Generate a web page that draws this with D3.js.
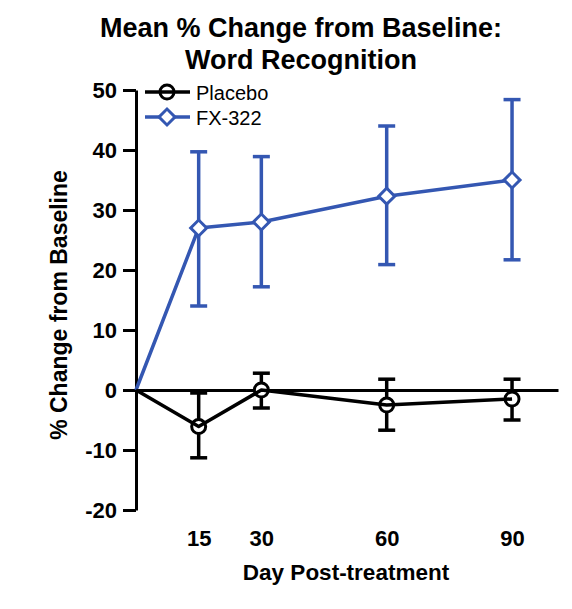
<!DOCTYPE html>
<html>
<head>
<meta charset="utf-8">
<script src="https://cdn.jsdelivr.net/npm/d3@7"></script>
<style>
  body { margin: 0; background: #fff; }
  text { font-family: "Liberation Sans", Arial, sans-serif; }
</style>
</head>
<body>
<div id="chart"></div>
<script>
// data
var days = [0, 15, 30, 60, 90];
var placeboMean = [0, -6.1, 0, -2.5, -1.5];
var placeboHi   = [null, -0.5, 2.8, 1.8, 1.8];
var placeboLo   = [null, -11.3, -3.0, -6.7, -5.0];
var fxMean = [0, 27.0, 28.0, 32.3, 35.0];
var fxHi   = [null, 39.7, 38.9, 44.0, 48.4];
var fxLo   = [null, 14.0, 17.2, 20.9, 21.7];
var yTicks = [-20, -10, 0, 10, 20, 30, 40, 50];
var xTicks = [15, 30, 60, 90];

var blue = "#3457b2";
var width = 572, height = 609;

var svg = d3.select("#chart").append("svg")
    .attr("width", width)
    .attr("height", height);

// set the ranges
var x = d3.scaleLinear().domain([0, 101]).range([136, 558]);
var y = d3.scaleLinear().domain([-20, 50]).range([510, 90]);

// title
svg.append("text")
    .attr("x", 301).attr("y", 37)
    .attr("text-anchor", "middle")
    .style("font-size", "27px").style("font-weight", "bold")
    .text("Mean % Change from Baseline:");
svg.append("text")
    .attr("x", 301).attr("y", 69)
    .attr("text-anchor", "middle")
    .style("font-size", "27px").style("font-weight", "bold")
    .text("Word Recognition");

// y axis
var yAxis = svg.append("g")
    .attr("transform", "translate(" + x(0) + ",0)")
    .call(d3.axisLeft(y).tickValues(yTicks).tickSize(13).tickSizeOuter(0).tickPadding(6)
      .tickFormat(function(d) { return String(d); }));
yAxis.select(".domain").attr("stroke-width", 3);
yAxis.selectAll(".tick line").attr("stroke-width", 3);
yAxis.selectAll("text")
    .attr("fill", "#000")
    .style("font-size", "22px").style("font-weight", "bold")
    .style("font-family", "'Liberation Sans', Arial, sans-serif");

// zero line
var zeroAxis = svg.append("g")
    .attr("transform", "translate(0," + y(0) + ")")
    .call(d3.axisBottom(x).tickValues([]).tickSizeOuter(0));
zeroAxis.select(".domain").attr("stroke-width", 3);

// x tick labels (no tick marks)
var xAxis = svg.append("g")
    .attr("transform", "translate(0," + y(-20) + ")")
    .call(d3.axisBottom(x).tickValues(xTicks).tickSize(0).tickPadding(20));
xAxis.select(".domain").remove();
xAxis.selectAll("text")
    .attr("fill", "#000")
    .style("font-size", "22px").style("font-weight", "bold")
    .style("font-family", "'Liberation Sans', Arial, sans-serif");

// axis titles
svg.append("text")
    .attr("x", 346).attr("y", 580)
    .attr("text-anchor", "middle")
    .style("font-size", "22.5px").style("font-weight", "bold")
    .text("Day Post-treatment");
svg.append("text")
    .attr("transform", "translate(67,305) rotate(-90)")
    .attr("text-anchor", "middle")
    .style("font-size", "23px").style("font-weight", "bold")
    .text("% Change from Baseline");

function rows(mean, hi, lo) {
  return days.map(function(d, i) { return {day: d, mean: mean[i], hi: hi[i], lo: lo[i]}; });
}
var placebo = rows(placeboMean, placeboHi, placeboLo);
var fx = rows(fxMean, fxHi, fxLo);

var line = d3.line()
    .x(function(d) { return x(d.day); })
    .y(function(d) { return y(d.mean); });

function errorBars(data, color) {
  var g = svg.append("g").attr("stroke", color).attr("stroke-width", 3.5).attr("fill", "none");
  var pts = data.filter(function(d) { return d.hi !== null; });
  g.selectAll(".v").data(pts).enter().append("line")
      .attr("x1", function(d) { return x(d.day); }).attr("x2", function(d) { return x(d.day); })
      .attr("y1", function(d) { return y(d.hi); }).attr("y2", function(d) { return y(d.lo); });
  ["hi", "lo"].forEach(function(k) {
    g.selectAll(".c" + k).data(pts).enter().append("line")
        .attr("x1", function(d) { return x(d.day) - 8.5; }).attr("x2", function(d) { return x(d.day) + 8.5; })
        .attr("y1", function(d) { return y(d[k]); }).attr("y2", function(d) { return y(d[k]); });
  });
}

var diamond = d3.symbol().type(d3.symbolSquare).size(128);

// FX-322
errorBars(fx, blue);
svg.append("path").datum(fx)
    .attr("d", line).attr("fill", "none")
    .attr("stroke", blue).attr("stroke-width", 3.5).attr("stroke-linejoin", "round");
svg.selectAll(".fxpt").data(fx.slice(1)).enter().append("path")
    .attr("d", diamond)
    .attr("transform", function(d) { return "translate(" + x(d.day) + "," + y(d.mean) + ") rotate(45)"; })
    .attr("fill", "#fff").attr("stroke", blue).attr("stroke-width", 3);

// Placebo
errorBars(placebo, "#000");
svg.selectAll(".plpt").data(placebo.slice(1)).enter().append("circle")
    .attr("cx", function(d) { return x(d.day); })
    .attr("cy", function(d) { return y(d.mean); })
    .attr("r", 7)
    .attr("fill", "#fff").attr("stroke", "#000").attr("stroke-width", 3);
svg.append("path").datum(placebo)
    .attr("d", line).attr("fill", "none")
    .attr("stroke", "#000").attr("stroke-width", 3.5).attr("stroke-linejoin", "round");

// legend
var legend = [
  {name: "Placebo", color: "#000", y: 92, shape: "circle"},
  {name: "FX-322", color: blue, y: 117, shape: "diamond"}
];
legend.forEach(function(l) {
  var g = svg.append("g");
  if (l.shape === "circle") {
    g.append("circle").attr("cx", 167).attr("cy", l.y).attr("r", 7)
        .attr("fill", "#fff").attr("stroke", l.color).attr("stroke-width", 3);
    g.append("line").attr("x1", 145).attr("x2", 190).attr("y1", l.y).attr("y2", l.y)
        .attr("stroke", l.color).attr("stroke-width", 3.5);
  } else {
    g.append("line").attr("x1", 145).attr("x2", 190).attr("y1", l.y).attr("y2", l.y)
        .attr("stroke", l.color).attr("stroke-width", 3.5);
    g.append("path").attr("d", diamond)
        .attr("transform", "translate(167," + l.y + ") rotate(45)")
        .attr("fill", "#fff").attr("stroke", l.color).attr("stroke-width", 3);
  }
  g.append("text").attr("x", 196).attr("y", l.y + 8)
      .style("font-size", "20px")
      .text(l.name);
});
</script>
</body>
</html>
